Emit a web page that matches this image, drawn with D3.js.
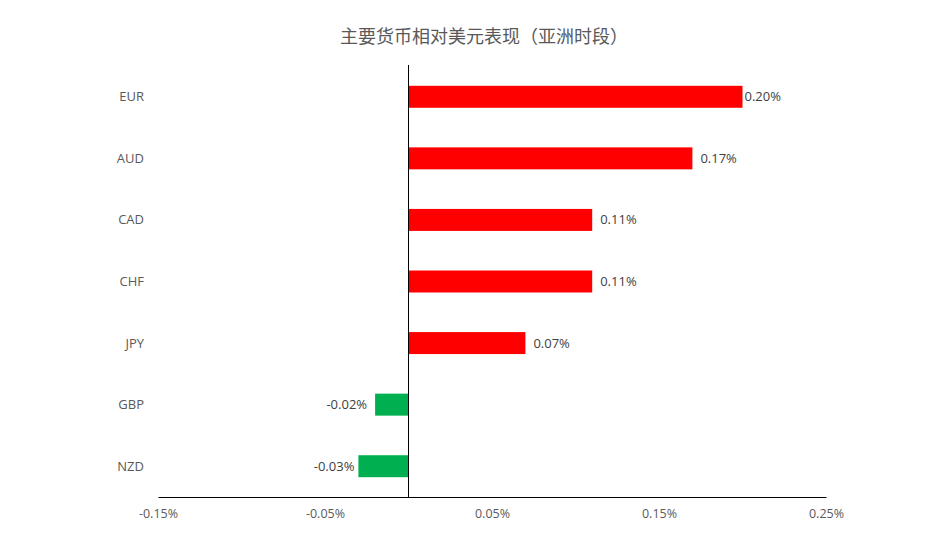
<!DOCTYPE html>
<html>
<head>
<meta charset="utf-8">
<script src="https://cdn.jsdelivr.net/npm/d3@7"></script>
<style>
  body { margin: 0; background: #fff; }
  text { font-family: "Open Sans", "Noto Sans", sans-serif; }
</style>
</head>
<body>
<div id="chart"></div>
<script>
// data
const currencies = ["EUR", "AUD", "CAD", "CHF", "JPY", "GBP", "NZD"];
const changes = [0.20, 0.17, 0.11, 0.11, 0.07, -0.02, -0.03];
const tickValues = [-0.15, -0.05, 0.05, 0.15, 0.25];
const titleText = "主要货币相对美元表现（亚洲时段）";

const width = 951, height = 556;
const margin = {top: 66, right: 125, bottom: 59, left: 158};

// plain hyphen instead of d3's unicode minus
const pct = v => d3.format(".2f")(v).replace("\u2212", "-") + "%";

let svg = d3.select("#chart").append("svg")
    .attr("width", width)
    .attr("height", height);

let x = d3.scaleLinear()
    .domain([-0.15, 0.25])
    .range([margin.left, width - margin.right]);

let y = d3.scaleBand()
    .domain(currencies)
    .range([margin.top, height - margin.bottom])
    .paddingInner(0.643)
    .paddingOuter(0.3215);

let rows = currencies.map((c, i) => ({name: c, value: changes[i]}));
let maxV = d3.max(changes), minV = d3.min(changes);

// title
svg.append("text")
    .attr("x", 484)
    .attr("y", 43)
    .attr("text-anchor", "middle")
    .style("font-family", "'Noto Sans CJK SC', sans-serif")
    .style("font-size", "18px")
    .style("fill", "#595959")
    .text(titleText);

// bars
svg.selectAll("rect.bar")
    .data(rows)
    .enter().append("rect")
    .attr("class", "bar")
    .attr("x", d => x(Math.min(0, d.value)))
    .attr("y", d => y(d.name))
    .attr("width", d => Math.abs(x(d.value) - x(0)))
    .attr("height", y.bandwidth())
    .style("fill", d => d.value >= 0 ? "#ff0000" : "#00b050");

// value labels (the longest bars get a tighter gap, as in the original)
svg.selectAll("text.val")
    .data(rows)
    .enter().append("text")
    .attr("class", "val")
    .attr("x", d => {
        if (d.value >= 0) return x(d.value) + (d.value === maxV ? 2 : 8);
        return x(d.value) - (d.value === minV ? 4 : 8);
    })
    .attr("y", d => y(d.name) + y.bandwidth() / 2)
    .attr("dy", "0.35em")
    .attr("text-anchor", d => d.value >= 0 ? "start" : "end")
    .style("font-size", "13px")
    .style("fill", "#404040")
    .text(d => pct(d.value));

// category labels
svg.selectAll("text.cat")
    .data(currencies)
    .enter().append("text")
    .attr("class", "cat")
    .attr("x", 144)
    .attr("y", d => y(d) + y.bandwidth() / 2)
    .attr("dy", "0.35em")
    .attr("text-anchor", "end")
    .style("font-size", "13px")
    .style("fill", "#595959")
    .text(d => d);

// x axis (bottom)
let xAxis = d3.axisBottom(x)
    .tickValues(tickValues)
    .tickSize(0)
    .tickPadding(12)
    .tickFormat(pct);

let gx = svg.append("g")
    .attr("transform", `translate(0,${height - margin.bottom})`)
    .call(xAxis);
gx.select(".domain").attr("stroke", "#000").attr("stroke-width", 1);
gx.selectAll("text")
    .style("font-family", "'Open Sans', 'Noto Sans', sans-serif")
    .style("font-size", "12.5px")
    .style("fill", "#595959");

// zero line
svg.append("line")
    .attr("x1", x(0)).attr("x2", x(0))
    .attr("y1", margin.top - 1)
    .attr("y2", height - margin.bottom)
    .attr("stroke", "#000")
    .attr("stroke-width", 1);
</script>
</body>
</html>
